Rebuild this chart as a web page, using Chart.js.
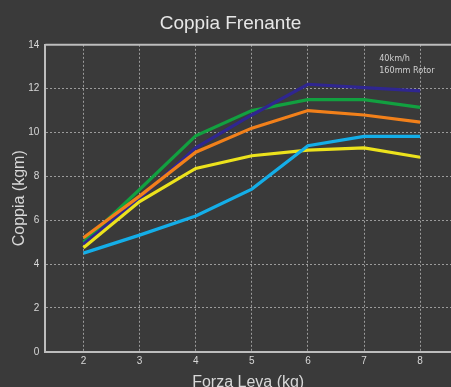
<!DOCTYPE html>
<html>
<head>
<meta charset="utf-8">
<script src="https://cdn.jsdelivr.net/npm/chart.js@4"></script>
<style>
  html, body { margin: 0; padding: 0; background: #3a3a3a; }
  #wrap { width: 451px; height: 387px; }
</style>
</head>
<body>
<div id="wrap"><canvas id="coppia-chart"></canvas></div>
<script>
// Chart data
const forzaLeva = [2, 3, 4, 5, 6, 7, 8];
const serieBlu = [4.9, 7.0, 9.3, 10.8, 12.2, 12.05, 11.9];
const serieVerde = [5.0, 7.4, 9.85, 11.0, 11.5, 11.5, 11.15];
const serieArancio = [5.2, 7.1, 9.1, 10.2, 11.0, 10.8, 10.47];
const serieGialla = [4.74, 6.85, 8.36, 8.94, 9.2, 9.3, 8.87];
const serieAzzurra = [4.5, 5.32, 6.19, 7.42, 9.4, 9.82, 9.82];
const yTicks = [0, 2, 4, 6, 8, 10, 12, 14];
const noteLines = ['40km/h', '160mm Rotor'];

const gridColor = 'rgba(235,235,235,0.55)';
const textColor = '#d8d8d8';

function toPoints(values) {
    return forzaLeva.map((x, i) => ({ x: x, y: values[i] }));
}

function serie(values, color) {
    return {
        data: toPoints(values),
        borderColor: color,
        backgroundColor: color,
        borderWidth: 3.2,
        pointRadius: 0,
        tension: 0
    };
}

// top frame line + small note at upper right
const extras = {
    id: 'extras',
    afterDraw(chart) {
        const c = chart.ctx;
        const a = chart.chartArea;
        c.save();
        c.strokeStyle = '#bdbdbd';
        c.lineWidth = 2;
        c.beginPath();
        c.moveTo(a.left, a.top);
        c.lineTo(a.right, a.top);
        c.stroke();
        const x = chart.scales.x.getPixelForValue(7.27);
        const y = chart.scales.y.getPixelForValue(13.35);
        c.fillStyle = '#cfcfcf';
        c.font = '9px "DejaVu Sans Condensed", sans-serif';
        c.textBaseline = 'middle';
        noteLines.forEach((t, i) => c.fillText(t, x, y + i * 12));
        c.restore();
    }
};

new Chart(document.getElementById('coppia-chart'), {
    type: 'line',
    data: {
        datasets: [
            serie(serieAzzurra, '#14aee8'),
            serie(serieGialla, '#ece21c'),
            serie(serieArancio, '#f2801a'),
            serie(serieBlu, '#2f2690'),
            serie(serieVerde, '#12a040')
        ]
    },
    options: {
        responsive: true,
        maintainAspectRatio: false,
        animation: false,
        layout: { padding: { left: 10, right: 0, top: 0, bottom: -5 } },
        scales: {
            x: {
                type: 'linear',
                min: 1.32,
                max: 8.55,
                afterBuildTicks: axis => {
                    axis.ticks = forzaLeva.map(v => ({ value: v }));
                },
                grid: { color: gridColor, lineWidth: 1, drawTicks: false },
                border: { display: true, color: '#bdbdbd', width: 2, dash: [2, 2] },
                ticks: { color: textColor, font: { size: 10 }, padding: 3 },
                title: {
                    display: true,
                    text: 'Forza Leva (kg)',
                    color: textColor,
                    font: { size: 16 },
                    padding: { top: 3, bottom: 0 }
                }
            },
            y: {
                min: 0,
                max: 14,
                afterBuildTicks: axis => {
                    axis.ticks = yTicks.map(v => ({ value: v }));
                },
                grid: { color: gridColor, lineWidth: 1, drawTicks: false },
                border: { display: true, color: '#bdbdbd', width: 2, dash: [2, 2] },
                ticks: { color: textColor, font: { size: 10 }, padding: 6 },
                title: {
                    display: true,
                    text: 'Coppia (kgm)',
                    color: textColor,
                    font: { size: 16 },
                    padding: { top: 0, bottom: -7 }
                }
            }
        },
        plugins: {
            legend: { display: false },
            tooltip: { enabled: false },
            title: {
                display: true,
                text: 'Coppia Frenante',
                color: '#e6e6e6',
                font: { size: 19, weight: 'normal' },
                padding: { top: 12, bottom: 10 }
            }
        }
    },
    plugins: [extras]
});
</script>
</body>
</html>
